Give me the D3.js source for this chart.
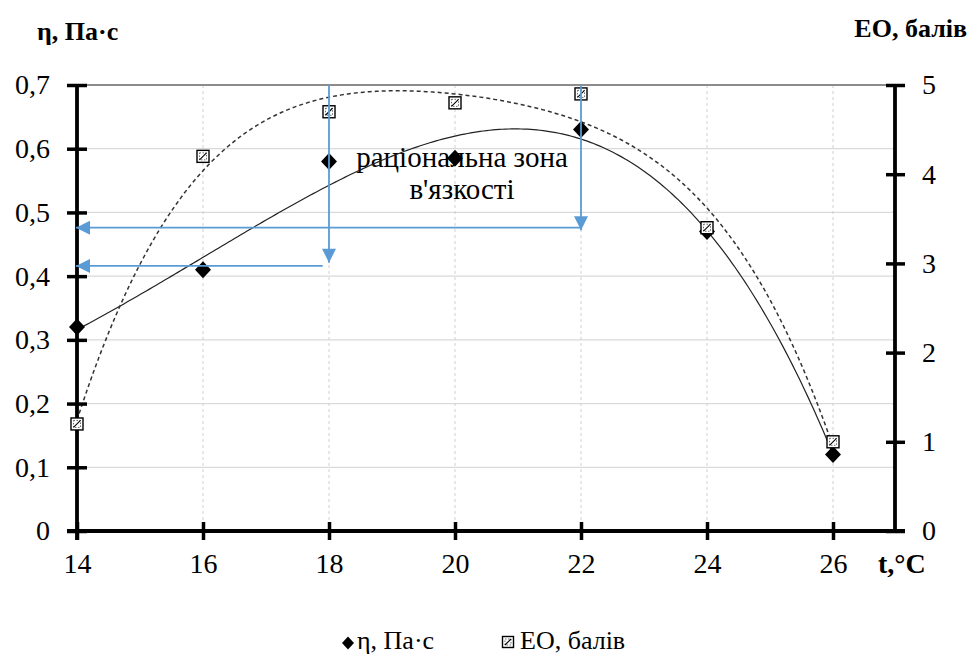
<!DOCTYPE html>
<html>
<head>
<meta charset="utf-8">
<script src="https://cdn.jsdelivr.net/npm/d3@7"></script>
<style>
  html, body { margin: 0; padding: 0; background: #fff; }
  svg { display: block; }
</style>
</head>
<body>
<svg id="chart" width="970" height="666" font-family="Liberation Serif"></svg>
<script>
// Temperature, °C
const temps = [14, 16, 18, 20, 22, 24, 26];
// Viscosity η, Pa·s (left axis)
const viscosity = [0.32, 0.41, 0.58, 0.585, 0.63, 0.47, 0.12];
// Organoleptic score, points (right axis)
const scores = [1.2, 4.2, 4.7, 4.8, 4.9, 3.4, 1.0];

const xTicks = [14, 16, 18, 20, 22, 24, 26];
const yLeftTicks = [0, 0.1, 0.2, 0.3, 0.4, 0.5, 0.6, 0.7];
const yRightTicks = [0, 1, 2, 3, 4, 5];

// Guide arrows marking the rational viscosity zone: [t, η]
const dropArrows = [[18, 0.421], [22, 0.472]];
const sideArrows = [[17.9, 0.416], [22, 0.476]];

const zoneLabel = ["раціональна зона", "в'язкості"];
const legendLabels = ["η, Па·с", "ЕО, балів"];

const SERIF = "Liberation Serif";
const svg = d3.select("#chart");
const plotL = 77, plotR = 896, plotT = 85, plotB = 531;

const x = d3.scaleLinear().domain([14, 27]).range([plotL, plotR]);
const yL = d3.scaleLinear().domain([0, 0.7]).range([plotB, plotT]);
const yR = d3.scaleLinear().domain([0, 5]).range([plotB, plotT]);

// Least-squares polynomial trendline
function polyFit(xs, ys, deg) {
  const mx = d3.mean(xs);
  const n = deg + 1;
  const A = Array.from({length: n}, () => new Array(n + 1).fill(0));
  xs.forEach((xv, k) => {
    const u = xv - mx;
    for (let i = 0; i < n; i++) {
      for (let j = 0; j < n; j++) A[i][j] += Math.pow(u, i + j);
      A[i][n] += Math.pow(u, i) * ys[k];
    }
  });
  for (let i = 0; i < n; i++) {
    let p = i;
    for (let r = i + 1; r < n; r++) if (Math.abs(A[r][i]) > Math.abs(A[p][i])) p = r;
    [A[i], A[p]] = [A[p], A[i]];
    for (let r = 0; r < n; r++) {
      if (r === i) continue;
      const f = A[r][i] / A[i][i];
      for (let c = i; c <= n; c++) A[r][c] -= f * A[i][c];
    }
  }
  const coef = A.map((row, i) => row[n] / row[i]);
  return xv => coef.reduce((s, c, i) => s + c * Math.pow(xv - mx, i), 0);
}

const fitV = polyFit(temps, viscosity, 4);
const fitS = polyFit(temps, scores, 4);
const samples = d3.range(14, 26.0001, 0.05);

// Grid
const grid = svg.append("g");
grid.selectAll("line.h").data(yLeftTicks.filter(d => d > 0 && d < 0.7)).enter()
  .append("line")
  .attr("x1", plotL).attr("x2", plotR)
  .attr("y1", d => yL(d)).attr("y2", d => yL(d))
  .attr("stroke", "#d9d9d9").attr("stroke-width", 1.3);
grid.selectAll("line.v").data(xTicks.filter(d => d > 14)).enter()
  .append("line")
  .attr("x1", d => x(d)).attr("x2", d => x(d))
  .attr("y1", plotT).attr("y2", plotB)
  .attr("stroke", "#d0d0d0").attr("stroke-width", 1)
  .attr("stroke-dasharray", "3,3");
grid.append("line")
  .attr("x1", plotL).attr("x2", plotR)
  .attr("y1", yL(0.7)).attr("y2", yL(0.7))
  .attr("stroke", "#8c8c8c").attr("stroke-width", 2.2);

// Zone label
const lbl = svg.append("text")
  .attr("text-anchor", "middle")
  .attr("font-family", SERIF)
  .attr("font-size", 29)
  .attr("fill", "#000");
lbl.append("tspan").attr("x", 462).attr("y", 167).text(zoneLabel[0]);
lbl.append("tspan").attr("x", 462).attr("y", 199).text(zoneLabel[1]);

// Trendlines
svg.append("path")
  .datum(samples)
  .attr("fill", "none").attr("stroke", "#222").attr("stroke-width", 1.2)
  .attr("d", d3.line().x(d => x(d)).y(d => yL(fitV(d))));
svg.append("path")
  .datum(samples)
  .attr("fill", "none").attr("stroke", "#333").attr("stroke-width", 1.5)
  .attr("stroke-dasharray", "4,3")
  .attr("d", d3.line().x(d => x(d)).y(d => yR(fitS(d))));

// Axes
function styleAxis(g) {
  g.attr("font-family", SERIF).attr("font-size", 28);
  g.select(".domain").remove();
  g.selectAll(".tick line").attr("stroke", "#000").attr("stroke-width", 3.5);
  g.selectAll(".tick text")
    .attr("font-family", SERIF)
    .attr("font-size", 28).attr("fill", "#000");
}

const xAxis = svg.append("g").attr("transform", `translate(0,${plotB})`)
  .call(d3.axisBottom(x).tickValues(xTicks).tickSizeInner(9).tickSizeOuter(0).tickPadding(13).tickFormat(d3.format("d")));
styleAxis(xAxis);
xAxis.selectAll(".tick line").attr("y1", -9);

const yAxisL = svg.append("g").attr("transform", `translate(${plotL},0)`)
  .call(d3.axisLeft(yL).tickValues(yLeftTicks).tickSizeInner(10).tickSizeOuter(0).tickPadding(17)
    .tickFormat(d => d === 0 ? "0" : d3.format(".1f")(d).replace(".", ",")));
styleAxis(yAxisL);
yAxisL.selectAll(".tick line").attr("x1", 10);
yAxisL.selectAll(".tick text").attr("dy", "0.32em");

const rightX = x(27) - 1;
const yAxisR = svg.append("g").attr("transform", `translate(${rightX},0)`)
  .call(d3.axisRight(yR).tickValues(yRightTicks).tickSizeInner(10).tickSizeOuter(0).tickPadding(17).tickFormat(d3.format("d")));
styleAxis(yAxisR);
yAxisR.selectAll(".tick line").attr("x1", -9);
yAxisR.selectAll(".tick text").attr("dy", "0.32em");

// Axis lines
const axisLines = svg.append("g").attr("stroke", "#000").attr("stroke-width", 3.8);
axisLines.append("line").attr("x1", plotL - 10).attr("x2", rightX + 10).attr("y1", plotB).attr("y2", plotB);
axisLines.append("line").attr("x1", plotL).attr("x2", plotL).attr("y1", plotT).attr("y2", plotB + 9);
axisLines.append("line").attr("x1", rightX).attr("x2", rightX).attr("y1", plotT).attr("y2", plotB);

// Markers
function diamondPath(w, h) {
  return `M0,${-h / 2} L${w / 2},0 L0,${h / 2} L${-w / 2},0 Z`;
}
svg.append("g").selectAll("path").data(temps).enter()
  .append("path")
  .attr("d", diamondPath(16, 17))
  .attr("transform", (d, i) => `translate(${x(d)},${yL(viscosity[i])})`)
  .attr("fill", "#000");

function squareMarker(g, s) {
  g.append("rect").attr("x", -s / 2).attr("y", -s / 2).attr("width", s).attr("height", s)
    .attr("fill", "#fff").attr("stroke", "#000").attr("stroke-width", 1.4);
  g.append("rect").attr("x", -s / 2 + 2.5).attr("y", -s / 2 + 2.5).attr("width", s - 5).attr("height", s - 5)
    .attr("fill", "none").attr("stroke", "#444").attr("stroke-width", 0.8).attr("stroke-dasharray", "1.5,1.5");
  g.append("line").attr("x1", -s / 2 + 2.5).attr("y1", s / 2 - 2.5).attr("x2", s / 2 - 2.5).attr("y2", -s / 2 + 2.5)
    .attr("stroke", "#000").attr("stroke-width", 1.1);
}
svg.append("g").selectAll("g").data(temps).enter()
  .append("g")
  .attr("transform", (d, i) => `translate(${x(d)},${yR(scores[i])})`)
  .each(function () { squareMarker(d3.select(this), 12); });

// Guide arrows
const blue = "#5b9bd5";
const defs = svg.append("defs");
defs.append("marker").attr("id", "tri").attr("viewBox", "0 0 10 10")
  .attr("refX", 10).attr("refY", 5).attr("markerWidth", 15).attr("markerHeight", 14)
  .attr("markerUnits", "userSpaceOnUse").attr("orient", "auto")
  .append("path").attr("d", "M0,0 L10,5 L0,10 Z").attr("fill", blue);

const arrows = svg.append("g").attr("stroke", blue).attr("stroke-width", 1.8).attr("fill", "none");
dropArrows.forEach(([t, v]) => {
  arrows.append("line").attr("x1", x(t)).attr("x2", x(t)).attr("y1", plotT).attr("y2", yL(v))
    .attr("marker-end", "url(#tri)");
});
sideArrows.forEach(([t, v]) => {
  arrows.append("line").attr("x1", x(t)).attr("x2", plotL - 1).attr("y1", yL(v)).attr("y2", yL(v))
    .attr("marker-end", "url(#tri)");
});

// Axis titles
function title(xp, yp, txt, size, anchor) {
  return svg.append("text").attr("x", xp).attr("y", yp).attr("text-anchor", anchor || "start")
    .attr("font-family", SERIF).attr("font-size", size).attr("font-weight", "bold")
    .attr("fill", "#000")
    .text(txt);
}
title(37, 40, "η, Па·с", 26);
title(967, 37, "ЕО, балів", 26, "end");
title(878, 573, "t,°C", 28);

// Legend
const leg = svg.append("g");
leg.append("path").attr("d", diamondPath(12, 13))
  .attr("transform", "translate(348,643)").attr("fill", "#000");
leg.append("text").attr("x", 357).attr("y", 649).attr("font-family", SERIF).attr("font-size", 26)
  .attr("fill", "#000").text(legendLabels[0]);
squareMarker(leg.append("g").attr("transform", "translate(508,642)"), 11);
leg.append("text").attr("x", 520).attr("y", 649).attr("font-family", SERIF).attr("font-size", 26)
  .attr("fill", "#000").text(legendLabels[1]);
</script>
</body>
</html>
